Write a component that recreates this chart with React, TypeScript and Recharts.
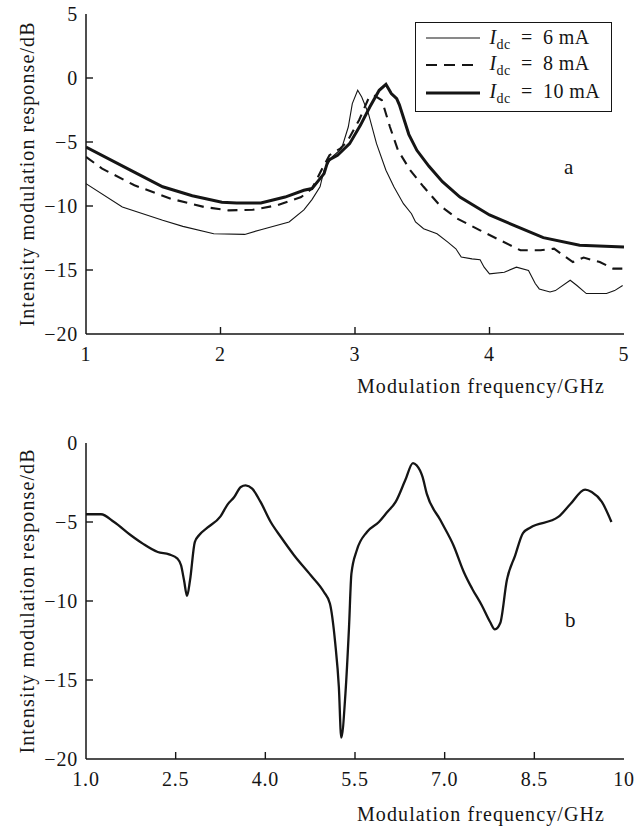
import { LineChart, Line, XAxis, YAxis, Label, ReferenceLine } from "recharts";

const FONT = '"Liberation Serif", "Times New Roman", serif';
const INK = "#151515";

// panel a: three bias currents
const xTicksA = [1, 2, 3, 4, 5];
const yTicksA = [5, 0, -5, -10, -15, -20];

const freq6 = [
  1.0, 1.27, 1.57, 1.72, 1.95, 2.18, 2.3, 2.51, 2.62, 2.68, 2.74, 2.77, 2.83, 2.9, 2.95, 2.98, 3.02,
  3.05, 3.1, 3.16, 3.23, 3.29, 3.36, 3.42, 3.45, 3.51, 3.61, 3.69, 3.75, 3.79, 3.87, 3.93, 3.96, 4.0,
  4.11, 4.2, 4.29, 4.34, 4.37, 4.45, 4.49, 4.6, 4.65, 4.72, 4.87, 4.93, 4.99,
];
const resp6 = [
  -8.25, -10.08, -11.12, -11.59, -12.17, -12.22, -11.85, -11.25, -10.3, -9.5, -8.5, -7.2, -6.17, -5.52,
  -3.83, -2.0, -0.96, -1.48, -2.78, -5.13, -7.21, -8.52, -9.82, -10.6, -11.25, -11.78, -12.17, -12.82,
  -13.34, -13.99, -14.13, -14.2, -14.78, -15.3, -15.17, -14.78, -15.04, -16.06, -16.48, -16.72, -16.61,
  -15.8, -16.21, -16.84, -16.84, -16.61, -16.21,
];

const freq8 = [
  1.0, 1.12, 1.36, 1.63, 1.88, 2.06, 2.24, 2.42, 2.6, 2.68, 2.75, 2.81, 2.89, 2.94, 3.03, 3.1, 3.14,
  3.2, 3.26, 3.32, 3.41, 3.51, 3.63, 3.76, 3.93, 4.08, 4.23, 4.38, 4.48, 4.62, 4.7, 4.82, 4.92, 5.0,
];
const resp8 = [
  -6.16, -7.08, -8.38, -9.43, -10.08, -10.34, -10.29, -9.95, -9.3, -8.64, -7.21, -6.03, -5.51, -5.0,
  -3.3, -1.61, -1.35, -1.74, -3.83, -5.65, -7.2, -8.5, -9.95, -10.98, -11.9, -12.68, -13.46, -13.46,
  -13.33, -14.38, -14.03, -14.38, -14.89, -14.89,
];

const freq10 = [
  1.0, 1.33, 1.57, 1.79, 2.01, 2.12, 2.3, 2.48, 2.62, 2.68, 2.77, 2.8, 2.87, 2.96, 3.04, 3.11, 3.18,
  3.23, 3.27, 3.31, 3.33, 3.4, 3.46, 3.55, 3.65, 3.78, 4.0, 4.2, 4.4, 4.67, 5.0,
];
const resp10 = [
  -5.39, -7.2, -8.5, -9.2, -9.7, -9.76, -9.76, -9.3, -8.77, -8.64, -7.47, -6.43, -6.04, -5.13, -3.7,
  -2.27, -0.96, -0.49, -1.22, -1.61, -2.1, -4.4, -5.65, -6.9, -8.1, -9.3, -10.7, -11.6, -12.47,
  -13.07, -13.2,
];

// panel b: single response
const xTicksB = [1, 2.5, 4, 5.5, 7, 8.5, 10];
const xLabelsB = ["1.0", "2.5", "4.0", "5.5", "7.0", "8.5", "10"];
const yTicksB = [0, -5, -10, -15, -20];

const freqB = [
  1.0, 1.25, 1.47, 1.75, 1.95, 2.2, 2.39, 2.53, 2.59, 2.64, 2.69, 2.74, 2.82, 2.89, 3.03, 3.25, 3.37,
  3.48, 3.59, 3.67, 3.78, 3.92, 4.09, 4.26, 4.48, 4.76, 4.98, 5.08, 5.17, 5.23, 5.27, 5.34, 5.4, 5.44,
  5.53, 5.7, 5.9, 6.04, 6.18, 6.34, 6.47, 6.53, 6.63, 6.7, 6.93, 7.15, 7.32, 7.46, 7.62, 7.76, 7.84,
  7.93, 8.04, 8.18, 8.31, 8.43, 8.9, 9.1, 9.35, 9.46, 9.63, 9.79,
];
const respB = [
  -4.51, -4.51, -5.0, -5.84, -6.37, -6.9, -7.05, -7.32, -7.74, -8.69, -9.68, -8.69, -6.27, -5.84,
  -5.36, -4.64, -3.88, -3.42, -2.78, -2.68, -2.89, -3.73, -5.0, -5.95, -7.1, -8.37, -9.43, -10.16,
  -12.7, -15.44, -18.65, -15.86, -11.65, -8.27, -6.79, -5.63, -5.0, -4.37, -3.73, -2.36, -1.27, -1.41,
  -2.15, -3.2, -4.89, -6.5, -8.16, -9.22, -10.27, -11.33, -11.79, -11.39, -8.69, -7.11, -5.7, -5.36,
  -4.68, -3.88, -2.95, -3.1, -3.73, -5.0,
];

const zip = (xs: number[], ys: number[]) => xs.map((x, i) => ({ x, y: ys[i] }));
const minus = (v: number) => String(v).replace("-", "\u2212");

const tickFont = { fontFamily: FONT, fontSize: 20, fill: INK, letterSpacing: 0.8 };
const titleStyle = { fontFamily: FONT, fontSize: 20, fill: INK, letterSpacing: 1.1 };
const frame = { stroke: INK, strokeWidth: 1.5 };

function makeXTick(labelFor: (v: number) => string) {
  return (props: any) => {
    const { x, y, payload } = props;
    return (
      <text x={x} y={y + 27} textAnchor="middle" style={tickFont}>
        {labelFor(payload.value)}
      </text>
    );
  };
}

function YTick(props: any) {
  const { x, y, payload } = props;
  return (
    <text x={x - 8} y={y + 7} textAnchor="end" style={tickFont}>
      {minus(payload.value)}
    </text>
  );
}

// short inward tick marks along the bottom and left edges, as data-space segments
function innerTicks(
  xs: number[],
  ys: number[],
  [x0, x1]: number[],
  [y0, y1]: number[],
  plotW: number,
  plotH: number
) {
  const dy = ((y1 - y0) / plotH) * 7;
  const dx = ((x1 - x0) / plotW) * 7;
  const marks = [
    ...xs.filter((v) => v > x0 && v < x1).map((v) => [{ x: v, y: y0 }, { x: v, y: y0 + dy }]),
    ...ys.filter((v) => v > y0 && v < y1).map((v) => [{ x: x0, y: v }, { x: x0 + dx, y: v }]),
  ];
  return marks.map((seg, i) => (
    <ReferenceLine key={`t${i}`} segment={seg} stroke={INK} strokeWidth={1.4} ifOverflow="visible" />
  ));
}

function xTitle(gap: number) {
  return (props: any) => {
    const vb = props.viewBox;
    return (
      <text x={vb.x + vb.width - 19} y={vb.y + gap} textAnchor="end" style={titleStyle}>
        Modulation frequency/GHz
      </text>
    );
  };
}

function yTitle(props: any) {
  const vb = props.viewBox;
  const cy = vb.y + vb.height / 2;
  return (
    <text
      x={27}
      y={cy}
      transform={`rotate(-90, 27, ${cy})`}
      textAnchor="middle"
      dominantBaseline="central"
      style={titleStyle}
    >
      Intensity modulation response/dB
    </text>
  );
}

function LegendSample({ dash, width }: { dash?: string; width: number }) {
  return (
    <svg width={54} height={10} style={{ display: "block" }}>
      <line x1={0} y1={5} x2={54} y2={5} stroke={INK} strokeWidth={width} strokeDasharray={dash} />
    </svg>
  );
}

const legendRows = [
  { label: "6", width: 1.2, dash: undefined, top: 16.6 },
  { label: "8", width: 2.2, dash: "11 7", top: 43.3 },
  { label: "10", width: 3, dash: undefined, top: 71.3 },
];

function LegendBox() {
  return (
    <div
      style={{
        position: "absolute",
        left: 415,
        top: 22,
        width: 197,
        height: 90,
        border: `1.5px solid ${INK}`,
        boxSizing: "border-box",
        background: "#fff",
        fontFamily: FONT,
        fontSize: 20,
        color: INK,
      }}
    >
      {legendRows.map((r) => (
        <div
          key={r.label}
          style={{
            position: "absolute",
            left: 9.5,
            top: r.top - 13.5,
            height: 24,
            display: "flex",
            alignItems: "center",
            whiteSpace: "nowrap",
          }}
        >
          <LegendSample dash={r.dash} width={r.width} />
          <span style={{ marginLeft: 10, lineHeight: "24px", letterSpacing: 0.4 }}>
            <i>I</i>
            <span style={{ fontSize: 14, position: "relative", top: 5 }}>dc</span>
            {"\u2002=\u2002"}
            {r.label} mA
          </span>
        </div>
      ))}
    </div>
  );
}

const panelLetter = (letter: string, left: number, top: number) => (
  <div
    style={{
      position: "absolute",
      left,
      top,
      fontFamily: FONT,
      fontSize: 21,
      color: INK,
      lineHeight: "24px",
    }}
  >
    {letter}
  </div>
);

export default function App() {
  return (
    <div style={{ position: "absolute", left: 0, top: 0, width: 638, height: 829, background: "#fff" }}>
      <div style={{ position: "absolute", left: 0, top: 0 }}>
        <LineChart width={638} height={400} margin={{ top: 14, right: 14, bottom: 0, left: 0 }}>
          <XAxis
            type="number"
            dataKey="x"
            domain={[1, 5]}
            ticks={xTicksA}
            height={66}
            tick={makeXTick((v) => String(v))}
            tickSize={0}
            tickMargin={0}
            tickLine={false}
            axisLine={frame}
            allowDataOverflow
          >
            <Label content={xTitle(59)} />
          </XAxis>
          <XAxis xAxisId="top" orientation="top" type="number" domain={[1, 5]} height={0} tick={false} tickLine={false} axisLine={frame} />
          <YAxis
            type="number"
            domain={[-20, 5]}
            ticks={yTicksA}
            width={86}
            tick={YTick}
            tickSize={0}
            tickMargin={0}
            tickLine={false}
            axisLine={frame}
            allowDataOverflow
          >
            <Label content={yTitle} />
          </YAxis>
          <YAxis yAxisId="right" orientation="right" type="number" domain={[-20, 5]} width={0} tick={false} tickLine={false} axisLine={frame} />
          {innerTicks(xTicksA, yTicksA, [1, 5], [-20, 5], 538, 320)}
          <Line data={zip(freq6, resp6)} dataKey="y" type="linear" stroke={INK} strokeWidth={1.1} dot={false} isAnimationActive={false} />
          <Line data={zip(freq8, resp8)} dataKey="y" type="linear" stroke={INK} strokeWidth={2.1} strokeDasharray="10 7" dot={false} isAnimationActive={false} />
          <Line data={zip(freq10, resp10)} dataKey="y" type="linear" stroke={INK} strokeWidth={3} dot={false} isAnimationActive={false} />
        </LineChart>
      </div>
      <LegendBox />
      {panelLetter("a", 564, 155)}

      <div style={{ position: "absolute", left: 0, top: 420 }}>
        <LineChart width={638} height={409} margin={{ top: 23, right: 14, bottom: 0, left: 0 }}>
          <XAxis
            type="number"
            dataKey="x"
            domain={[1, 10]}
            ticks={xTicksB}
            height={70}
            tick={makeXTick((v) => xLabelsB[xTicksB.indexOf(v)])}
            tickSize={0}
            tickMargin={0}
            tickLine={false}
            axisLine={frame}
            allowDataOverflow
          >
            <Label content={xTitle(62)} />
          </XAxis>
          <XAxis xAxisId="top" orientation="top" type="number" domain={[1, 10]} height={0} tick={false} tickLine={false} axisLine={frame} />
          <YAxis
            type="number"
            domain={[-20, 0]}
            ticks={yTicksB}
            width={86}
            tick={YTick}
            tickSize={0}
            tickMargin={0}
            tickLine={false}
            axisLine={frame}
            allowDataOverflow
          >
            <Label content={yTitle} />
          </YAxis>
          <YAxis yAxisId="right" orientation="right" type="number" domain={[-20, 0]} width={0} tick={false} tickLine={false} axisLine={frame} />
          {innerTicks(xTicksB, yTicksB, [1, 10], [-20, 0], 538, 316)}
          <Line data={zip(freqB, respB)} dataKey="y" type="monotoneX" stroke={INK} strokeWidth={2.3} dot={false} isAnimationActive={false} />
        </LineChart>
      </div>
      {panelLetter("b", 565, 608)}
    </div>
  );
}
